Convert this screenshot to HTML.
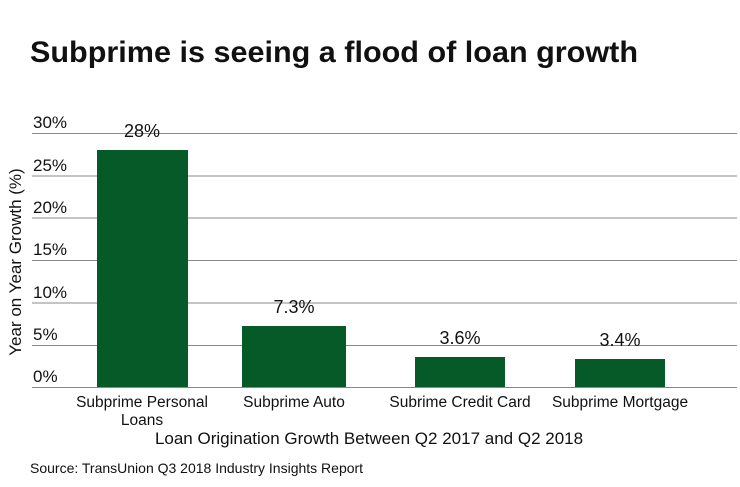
<!DOCTYPE html>
<html><head><style>
body{margin:0;background:#fff;}
svg text{font-family:"Liberation Sans",sans-serif;fill:#111;}
</style></head><body>
<svg width="740" height="482" xmlns="http://www.w3.org/2000/svg">
<text x="30" y="62" font-size="30" font-weight="bold" textLength="608" lengthAdjust="spacingAndGlyphs">Subprime is seeing a flood of loan growth</text>
<g stroke="#888" stroke-width="1">
<line x1="32" x2="737" y1="133.5" y2="133.5"/>
<line x1="32" x2="737" y1="176" y2="176"/>
<line x1="32" x2="737" y1="218" y2="218"/>
<line x1="32" x2="737" y1="260.5" y2="260.5"/>
<line x1="32" x2="737" y1="303" y2="303"/>
<line x1="32" x2="737" y1="345.5" y2="345.5"/>
<line x1="32" x2="737" y1="387.5" y2="387.5"/>
</g>
<g font-size="17">
<text x="33" y="128">30%</text>
<text x="33" y="171">25%</text>
<text x="33" y="213">20%</text>
<text x="33" y="255">15%</text>
<text x="33" y="298">10%</text>
<text x="33" y="340">5%</text>
<text x="33" y="382">0%</text>
</g>
<text transform="translate(21,262) rotate(-90)" text-anchor="middle" font-size="17">Year on Year Growth (%)</text>
<g fill="#065a28">
<rect x="97" y="150" width="91" height="237"/>
<rect x="242" y="326" width="104" height="61"/>
<rect x="415" y="357" width="90" height="30"/>
<rect x="575" y="359" width="90" height="28"/>
</g>
<g font-size="18" text-anchor="middle">
<text x="142" y="137">28%</text>
<text x="294" y="313">7.3%</text>
<text x="460" y="344">3.6%</text>
<text x="620" y="346">3.4%</text>
</g>
<g font-size="15.5" text-anchor="middle">
<text x="142" y="407">Subprime Personal</text>
<text x="142" y="425">Loans</text>
<text x="294" y="407">Subprime Auto</text>
<text x="460" y="407">Subrime Credit Card</text>
<text x="620" y="407">Subprime Mortgage</text>
</g>
<text x="369" y="444" font-size="17" text-anchor="middle">Loan Origination Growth Between Q2 2017 and Q2 2018</text>
<text x="30" y="473" font-size="14">Source: TransUnion Q3 2018 Industry Insights Report</text>
</svg>
</body></html>
